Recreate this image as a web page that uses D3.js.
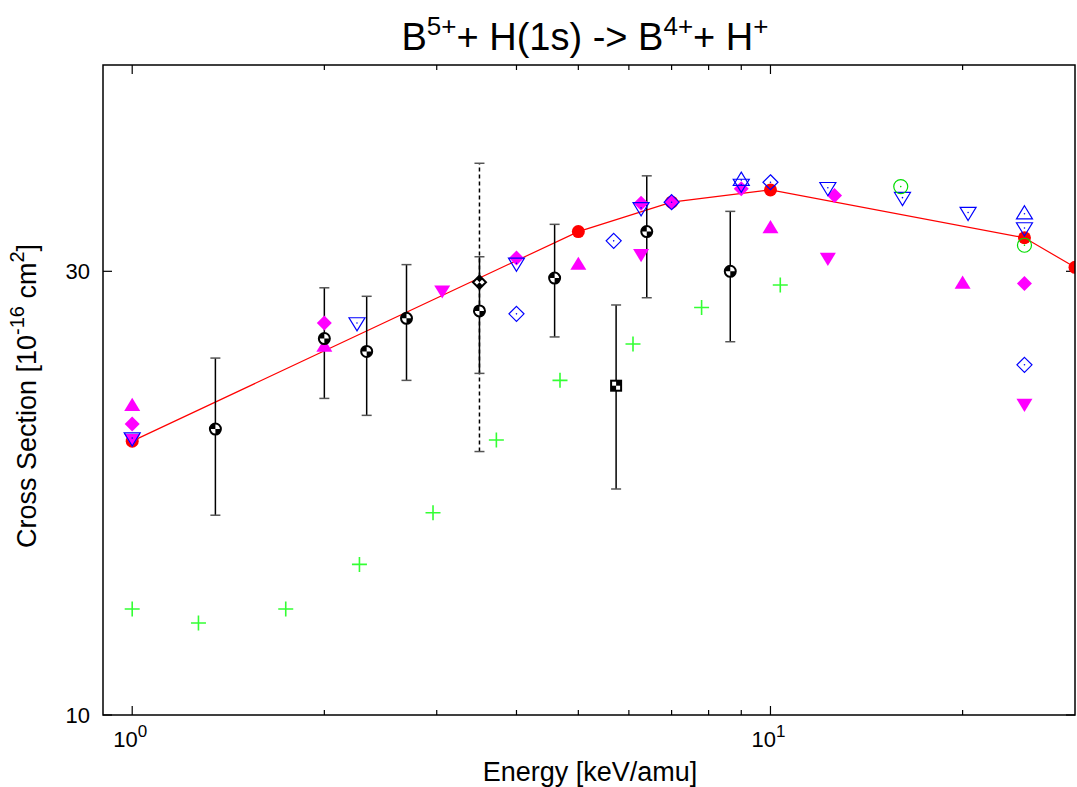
<!DOCTYPE html>
<html>
<head>
<meta charset="utf-8">
<style>
body{margin:0;background:#fff;font-family:"Liberation Sans",Arial,sans-serif;}
.frame{fill:none;stroke:#000;stroke-width:1.5;}
.tick{stroke:#000;stroke-width:1.2;}
.ticklabel{font-size:22px;fill:#000;}
.axlabel{font-size:27px;fill:#000;}
.title{font-size:38px;fill:#000;}
.theory{fill:none;stroke:#ff0000;stroke-width:1.2;}
.ebar{stroke:#000;stroke-width:1.5;}
.ecap{stroke:#555;stroke-width:1.5;}
</style>
</head>
<body>
<svg id="chart"></svg>
<script src="https://cdn.jsdelivr.net/npm/d3@7/dist/d3.min.js"></script>
<script>

// theory curve (red line + filled circles)
var theoryX = [1, 5, 7, 10, 25, 30];
var theoryY = [19.7, 33.1, 35.6, 36.7, 32.6, 30.3];

// black checkered circles with error bars
var expX  = [1.35, 2.0, 2.33, 2.69, 3.5, 4.59, 6.4, 8.65];
var expY  = [20.3, 25.4, 24.6, 26.7, 27.2, 29.5, 33.1, 30.0];
var expLo = [16.4, 21.9, 21.0, 22.9, 23.3, 25.5, 28.1, 25.2];
var expHi = [24.2, 28.8, 28.2, 30.5, 31.1, 33.7, 38.0, 34.8];

// black checkered square with error bar
var sqX = [5.73], sqY = [22.6], sqLo = [17.5], sqHi = [27.6];

// black diamond with dashed error bar
var dmX = [3.5], dmY = [29.2], dmLo = [19.2], dmHi = [39.2];

// magenta filled symbols
var magDiaX = [1, 2, 4, 6.27, 7, 9, 12.6, 25];
var magDiaY = [20.55, 26.4, 31.0, 35.5, 35.6, 36.8, 36.2, 29.1];
var magUpX  = [1, 2, 5, 10, 20];
var magUpY  = [21.5, 24.9, 30.5, 33.4, 29.1];
var magDnX  = [1, 3.06, 6.27, 12.3, 25];
var magDnY  = [19.8, 28.6, 31.3, 31.0, 21.6];

// blue open symbols
var bluDiaX = [4, 5.68, 7, 10, 25];
var bluDiaY = [27.0, 32.35, 35.6, 37.4, 23.8];
var bluUpX  = [9, 25];
var bluUpY  = [37.6, 34.6];
var bluDnX  = [1, 2.25, 4, 6.27, 9, 12.3, 16.1, 20.4, 25];
var bluDnY  = [19.85, 26.4, 30.6, 35.1, 37.2, 36.9, 36.0, 34.7, 33.4];

// green symbols
var grnCirX  = [16, 25];
var grnCirY  = [37.0, 32.0];
var grnPlusX = [1, 1.27, 1.74, 2.27, 2.96, 3.72, 4.68, 6.09, 7.8, 10.36];
var grnPlusY = [13.0, 12.56, 13.0, 14.52, 16.5, 19.76, 22.9, 25.06, 27.43, 29.0];

var xMajor = [1, 10];
var xMinor = [2, 3, 4, 5, 6, 7, 8, 9, 20];
var yMajor = [10, 30];

function pts(xs, ys){ return xs.map(function(v, i){ return {x: v, y: ys[i]}; }); }

function buildChart(){
    var W = 1077, H = 787;
    var margin = {top: 65, right: 2, bottom: 72, left: 103};
    var width  = W - margin.left - margin.right;
    var height = H - margin.top - margin.bottom;

    var root = d3.select("#chart").attr("width", W).attr("height", H);
    var svg = root.append("g")
        .attr("transform", "translate(" + margin.left + "," + margin.top + ")");

    var x = d3.scaleLog().domain([0.9, 30]).range([0, width]);
    var y = d3.scaleLog().domain([10, 50]).range([height, 0]);

    // ticks (inward, top+bottom, left+right)
    var tk = svg.append("g");
    xMajor.forEach(function(v){
        tk.append("line").attr("class","tick").attr("x1",x(v)).attr("x2",x(v)).attr("y1",height).attr("y2",height-9);
        tk.append("line").attr("class","tick").attr("x1",x(v)).attr("x2",x(v)).attr("y1",0).attr("y2",9);
    });
    xMinor.forEach(function(v){
        tk.append("line").attr("class","tick").attr("x1",x(v)).attr("x2",x(v)).attr("y1",height).attr("y2",height-5);
        tk.append("line").attr("class","tick").attr("x1",x(v)).attr("x2",x(v)).attr("y1",0).attr("y2",5);
    });
    yMajor.forEach(function(v){
        tk.append("line").attr("class","tick").attr("x1",0).attr("x2",9).attr("y1",y(v)).attr("y2",y(v));
        tk.append("line").attr("class","tick").attr("x1",width).attr("x2",width-9).attr("y1",y(v)).attr("y2",y(v));
    });

    // x tick labels 10^n
    xMajor.forEach(function(v){
        var t = svg.append("text").attr("class","ticklabel")
            .attr("x", x(v) - 2).attr("y", height + 32).attr("text-anchor","middle");
        t.append("tspan").text("10");
        t.append("tspan").attr("dy", -10).attr("font-size", "17px").text(Math.round(Math.log10(v)));
    });
    yMajor.forEach(function(v){
        svg.append("text").attr("class","ticklabel")
            .attr("x", -13).attr("y", y(v)).attr("dy","0.35em").attr("text-anchor","end")
            .text(v);
    });

    // theory line
    var line = d3.line().x(function(d){ return x(d.x); }).y(function(d){ return y(d.y); });
    svg.append("path").datum(pts(theoryX, theoryY)).attr("class","theory").attr("d", line);

    // error bars
    function ebars(xs, lo, hi, dashed){
        xs.forEach(function(v, i){
            var px = x(v);
            svg.append("line").attr("class","ebar")
                .attr("x1",px).attr("x2",px).attr("y1",y(lo[i])).attr("y2",y(hi[i]))
                .attr("stroke-dasharray", dashed ? "4,3" : null);
            [lo[i], hi[i]].forEach(function(e){
                svg.append("line").attr("class","ecap")
                    .attr("x1",px-5).attr("x2",px+5).attr("y1",y(e)).attr("y2",y(e));
            });
        });
    }
    ebars(dmX, dmLo, dmHi, true);
    ebars(expX, expLo, expHi, false);
    ebars(sqX, sqLo, sqHi, false);

    root.append("defs").append("clipPath").attr("id","plotclip")
        .append("rect").attr("x",0).attr("y",0).attr("width",width).attr("height",height);
    var marks = svg.append("g").attr("clip-path","url(#plotclip)");

    // red circles
    marks.selectAll(".red").data(pts(theoryX, theoryY)).enter().append("circle")
        .attr("cx", function(d){ return x(d.x); }).attr("cy", function(d){ return y(d.y); })
        .attr("r", 6.5).attr("fill", "#ff0000");

    function shape(type, s){
        if(type == "dia") return "M0," + (-s) + "L" + s + ",0L0," + s + "L" + (-s) + ",0Z";
        if(type == "up")  return "M0," + (-s) + "L" + s + "," + (s*0.65) + "L" + (-s) + "," + (s*0.65) + "Z";
        if(type == "dn")  return "M0," + s + "L" + s + "," + (-s*0.65) + "L" + (-s) + "," + (-s*0.65) + "Z";
    }

    function filled(xs, ys, type, s, col){
        marks.append("g").selectAll("path").data(pts(xs, ys)).enter().append("path")
            .attr("transform", function(d){ return "translate(" + x(d.x) + "," + y(d.y) + ")"; })
            .attr("d", shape(type, s)).attr("fill", col);
    }
    function open(xs, ys, type, s, col){
        var g = marks.append("g").selectAll("g").data(pts(xs, ys)).enter().append("g")
            .attr("transform", function(d){ return "translate(" + x(d.x) + "," + y(d.y) + ")"; });
        if(type == "circ"){
            g.append("circle").attr("r", s).attr("fill","none").attr("stroke",col).attr("stroke-width",1.2);
        } else {
            g.append("path").attr("d", shape(type, s)).attr("fill","none").attr("stroke",col).attr("stroke-width",1.2);
        }
        g.append("circle").attr("r", 0.8).attr("fill", col);
    }

    filled(magDnX, magDnY, "dn", 8, "#ff00ff");
    filled(magUpX, magUpY, "up", 8, "#ff00ff");
    filled(magDiaX, magDiaY, "dia", 7.5, "#ff00ff");

    open(bluDnX, bluDnY, "dn", 8, "#0000ff");
    open(bluUpX, bluUpY, "up", 8, "#0000ff");
    open(bluDiaX, bluDiaY, "dia", 7.5, "#0000ff");

    open(grnCirX, grnCirY, "circ", 7, "#00dd00");
    marks.append("g").selectAll("path").data(pts(grnPlusX, grnPlusY)).enter().append("path")
        .attr("transform", function(d){ return "translate(" + x(d.x) + "," + y(d.y) + ")"; })
        .attr("d", "M-7.5,0H7.5M0,-7.5V7.5").attr("stroke", "#33ff33").attr("stroke-width", 1.6);

    // black checkered circles
    var cg = marks.append("g").selectAll("g").data(pts(expX, expY)).enter().append("g")
        .attr("transform", function(d){ return "translate(" + x(d.x) + "," + y(d.y) + ")"; });
    cg.append("circle").attr("r", 5.5).attr("fill", "#fff").attr("stroke", "#000").attr("stroke-width", 2);
    cg.append("path").attr("d", "M0,0L-5.5,0A5.5,5.5 0 0,1 0,-5.5ZM0,0L5.5,0A5.5,5.5 0 0,1 0,5.5Z").attr("fill", "#000");

    // black checkered square
    var sg = marks.append("g").selectAll("g").data(pts(sqX, sqY)).enter().append("g")
        .attr("transform", function(d){ return "translate(" + x(d.x) + "," + y(d.y) + ")"; });
    sg.append("rect").attr("x",-6).attr("y",-6).attr("width",12).attr("height",12).attr("fill","#000");
    sg.append("rect").attr("x",-4).attr("y",-4).attr("width",4).attr("height",4).attr("fill","#fff");
    sg.append("rect").attr("x",0).attr("y",0).attr("width",4).attr("height",4).attr("fill","#fff");

    // black diamond
    var dg = marks.append("g").selectAll("g").data(pts(dmX, dmY)).enter().append("g")
        .attr("transform", function(d){ return "translate(" + x(d.x) + "," + y(d.y) + ")"; });
    dg.append("path").attr("d", shape("dia", 6.5)).attr("fill","#fff").attr("stroke","#000").attr("stroke-width",2);
    dg.append("path").attr("d", "M0,-6.5L3.2,-3.2L0,0L-3.2,-3.2ZM0,6.5L3.2,3.2L0,0L-3.2,3.2Z").attr("fill","#000");

    // frame
    svg.append("rect").attr("class","frame").attr("x",0).attr("y",0).attr("width",width).attr("height",height);

    // axis labels
    svg.append("text").attr("class","axlabel").attr("x", width/2 + 1).attr("y", height + 66)
        .attr("text-anchor","middle").text("Energy [keV/amu]");

    var yl = svg.append("text").attr("class","axlabel").attr("text-anchor","middle")
        .attr("font-size", "29px")
        .attr("transform", "translate(" + (-67) + "," + (height/2 + 6) + ") rotate(-90)");
    yl.append("tspan").text("Cross Section [10");
    yl.append("tspan").attr("dy", -12).attr("font-size","20px").text("-16");
    yl.append("tspan").attr("dy", 12).text(" cm");
    yl.append("tspan").attr("dy", -12).attr("font-size","20px").text("2");
    yl.append("tspan").attr("dy", 12).text("]");

    // title
    var tt = root.append("text").attr("class","title").attr("x", 585).attr("y", 50).attr("text-anchor","middle");
    tt.append("tspan").text("B");
    tt.append("tspan").attr("dy",-15).attr("font-size","26px").text("5+");
    tt.append("tspan").attr("dy",15).text("+ H(1s) -> B");
    tt.append("tspan").attr("dy",-15).attr("font-size","26px").text("4+");
    tt.append("tspan").attr("dy",15).text("+ H");
    tt.append("tspan").attr("dy",-15).attr("font-size","26px").text("+");
}

buildChart();

</script>
</body>
</html>
